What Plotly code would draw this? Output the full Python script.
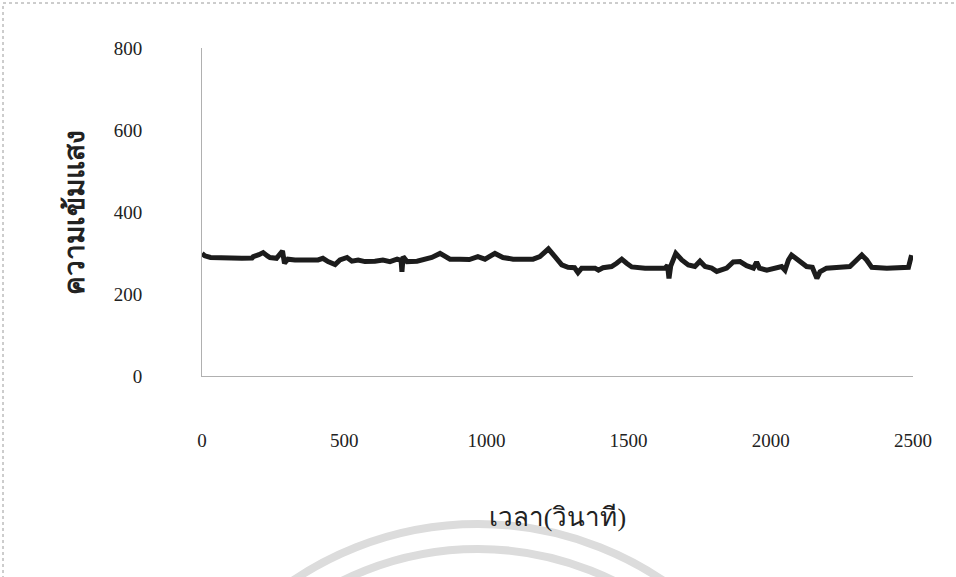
import plotly.graph_objects as go

# time (seconds)
time_s = [0, 10, 30, 60, 100, 140, 176, 180, 200, 215, 230, 239, 262, 283, 290, 302, 327, 360, 390, 408,
          425, 443, 468, 485, 510, 527, 549, 573, 608, 636, 661, 686, 700, 703, 707, 721, 756, 777, 808, 837,
          872, 907, 940, 970, 995, 1030, 1058, 1094, 1130, 1164, 1188, 1213, 1218, 1241, 1265, 1287, 1310,
          1322, 1335, 1382, 1394, 1410, 1440, 1458, 1476, 1493, 1511, 1558, 1604, 1628, 1637, 1642, 1648,
          1666, 1687, 1710, 1733, 1751, 1769, 1792, 1810, 1821, 1845, 1868, 1892, 1915, 1939, 1950, 1960,
          1986, 2015, 2038, 2050, 2062, 2073, 2097, 2126, 2146, 2162, 2173, 2196, 2243, 2278, 2302, 2320,
          2337, 2355, 2408, 2466, 2484, 2492, 2495]
# light intensity
intensity = [299, 293, 289, 288, 289, 287, 288, 291, 296, 301, 293, 289, 287, 305, 275, 285, 283, 282, 284, 283,
             287, 279, 272, 283, 289, 280, 283, 279, 280, 283, 279, 285, 282, 254, 291, 279, 280, 283, 289, 299,
             285, 285, 284, 291, 285, 299, 289, 285, 284, 285, 291, 306, 310, 291, 271, 265, 264,
             252, 263, 263, 258, 264, 267, 275, 285, 275, 266, 263, 263, 263, 270, 238, 268,
             299, 283, 271, 267, 280, 267, 263, 255, 258, 263, 278, 279, 269, 263, 278, 263,
             258, 263, 267, 258, 283, 295, 283, 267, 265, 238, 254, 263, 265, 267, 283, 295,
             283, 265, 263, 263, 265, 287, 295]

x_ticks = [0, 500, 1000, 1500, 2000, 2500]
y_ticks = [0, 200, 400, 600, 800]
x_title = "เวลา(วินาที)"
y_title = "ความเข้มแสง"

L, R, T, B = 202, 43, 48, 201
W, H = 956, 577
pw, ph = W - L - R, H - T - B

def px(x):
    return (x - L) / pw

def py(y):
    return (H - B - y) / ph

fig = go.Figure()
fig.add_trace(go.Scatter(x=time_s, y=intensity, mode="lines",
                         line=dict(color="#1c1c1c", width=5), showlegend=False))

serif = "Liberation Serif, Times New Roman, serif"
fig.update_layout(
    width=W, height=H,
    margin=dict(l=L, r=R, t=T, b=B),
    paper_bgcolor="white", plot_bgcolor="white",
    xaxis=dict(range=[0, 2500], tickvals=x_ticks, ticks="", showgrid=False, zeroline=False,
               showline=True, linecolor="#b0b0b0", linewidth=1,
               tickfont=dict(family=serif, size=19, color="#222"),
               ticklabelstandoff=47,
               title=dict(text=x_title, font=dict(family=serif, size=26, color="#222"), standoff=58)),
    yaxis=dict(range=[0, 800], tickvals=y_ticks, ticks="", showgrid=False, zeroline=False,
               showline=True, linecolor="#b0b0b0", linewidth=1,
               tickfont=dict(family=serif, size=19, color="#222"),
               ticklabelstandoff=55,
               title=dict(text="<b>" + y_title + "</b>", font=dict(family=serif, size=28, color="#222"),
                          standoff=20)),
    shapes=[
        dict(type="rect", xref="paper", yref="paper", layer="below",
             x0=px(3), x1=px(960), y0=py(582), y1=py(3),
             line=dict(color="#9a9a9a", width=1, dash="dot")),
        dict(type="circle", xref="paper", yref="paper", layer="below",
             x0=px(478 - 331), x1=px(478 + 331), y0=py(855 + 331), y1=py(855 - 331),
             line=dict(color="#dcdcdc", width=8)),
        dict(type="circle", xref="paper", yref="paper", layer="below",
             x0=px(478 - 306), x1=px(478 + 306), y0=py(855 + 306), y1=py(855 - 306),
             line=dict(color="#dcdcdc", width=8)),
    ],
)

fig.write_html("out.html")
